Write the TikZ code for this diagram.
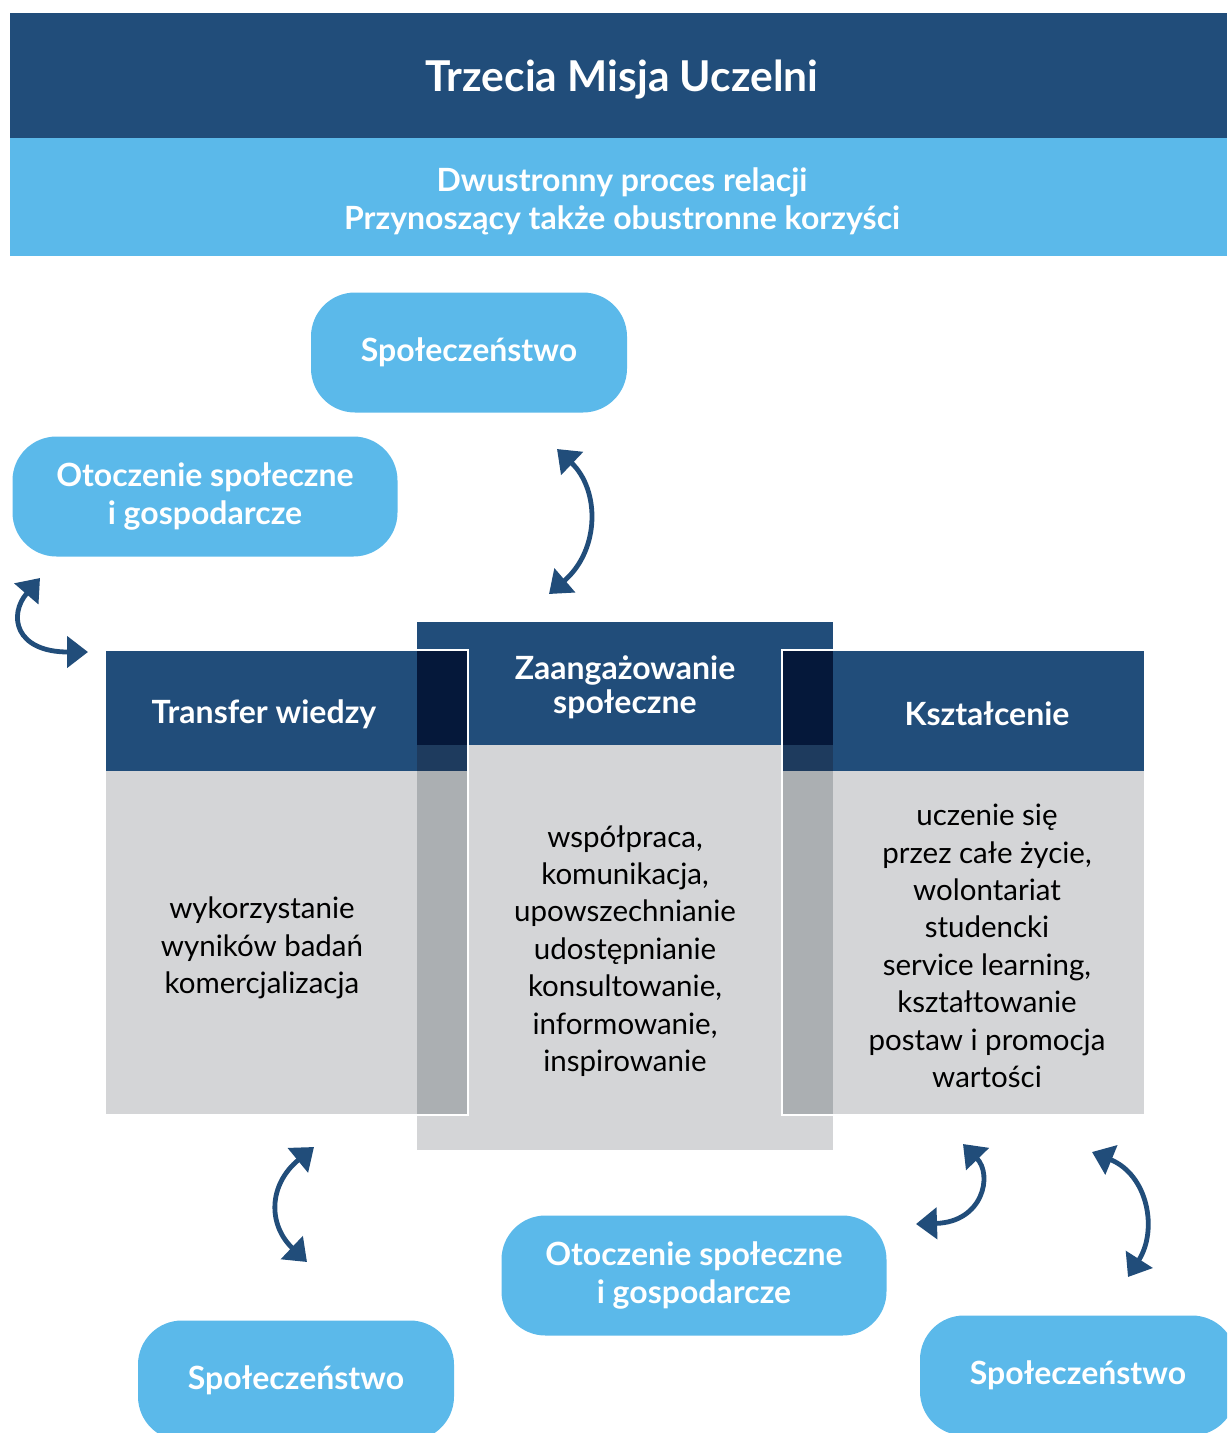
\documentclass[tikz,border=0pt]{standalone}
\usepackage{fontspec}
\setmainfont{Lato}
\usetikzlibrary{arrows.meta}
\definecolor{navy}{HTML}{214D7A}
\definecolor{sky}{HTML}{5BB9EA}
\definecolor{lgray}{HTML}{D4D5D7}
\definecolor{ovdd}{HTML}{05183A}
\definecolor{ovdg}{HTML}{1E3B5E}
\definecolor{ovgg}{HTML}{ABAFB2}
\begin{document}
\begin{tikzpicture}[x=1pt,y=-1pt,
  pill/.style={fill=sky, rounded corners=44pt, minimum width=316pt, minimum height=120pt,
    text=white, font=\bfseries\fontsize{32}{38}\selectfont, align=center, inner sep=0pt},
  hdtext/.style={text=white, font=\bfseries\fontsize{32}{34}\selectfont, align=center},
  bodytext/.style={text=black, font=\fontsize{29.5}{37.4}\selectfont, align=center},
  link/.style={draw=navy, line width=4.8pt, {Triangle[length=21pt,width=31pt]}-{Triangle[length=21pt,width=31pt]}}
]
\useasboundingbox (0,0) rectangle (1227,1433);
\begin{scope}
\clip (0,0) rectangle (1227,1433);
% header bands
\fill[navy] (10,13) rectangle (1227,138);
\fill[sky] (10,138) rectangle (1227,256);
\node[text=white, font=\bfseries\fontsize{42.5}{48}\selectfont] (title) at (622,80) {Trzecia Misja Uczelni};
\node[text=white, font=\bfseries\fontsize{32}{38}\selectfont, align=center] (sub) at (622,201)
  {Dwustronny proces relacji\\Przynoszący także obustronne korzyści};

% pills
\node[pill] (spTop) at (469,352.5) {Społeczeństwo};
\node[pill, minimum width=385pt] (otLeft) at (205,496.5) {Otoczenie społeczne\\i gospodarcze};
\node[pill, minimum width=385pt] (otBot) at (694,1275.5) {Otoczenie społeczne\\i gospodarcze};
\node[pill] (spBL) at (296,1380.5) {Społeczeństwo};
\node[pill] (spBR) at (1078,1375.5) {Społeczeństwo};

% middle column
\fill[navy] (417,622) rectangle (833,745);
\fill[lgray] (417,745) rectangle (833,1150);
% left column
\fill[navy] (105,650) rectangle (468,771);
\fill[lgray] (105,771) rectangle (468,1115);
% right column
\fill[navy] (782,650) rectangle (1145,771);
\fill[lgray] (782,771) rectangle (1145,1115);
% overlaps
\fill[ovdd] (417,650) rectangle (468,745);
\fill[ovdg] (417,745) rectangle (468,771);
\fill[ovgg] (417,771) rectangle (468,1115);
\fill[ovdd] (782,650) rectangle (833,745);
\fill[ovdg] (782,745) rectangle (833,771);
\fill[ovgg] (782,771) rectangle (833,1115);
% white outlines of side columns
\draw[white, line width=1.6pt] (105,650) rectangle (468,1115);
\draw[white, line width=1.6pt] (782,650) rectangle (1145,1115);

% column texts
\node[hdtext] (hL) at (264,714) {Transfer wiedzy};
\node[hdtext] (hM) at (625,687) {Zaangażowanie\\społeczne};
\node[hdtext] (hR) at (987,714) {Kształcenie};
\node[bodytext] (bL) at (262,948) {wykorzystanie\\wyników badań\\komercjalizacja};
\node[bodytext] (bM) at (625,951) {współpraca,\\komunikacja,\\upowszechnianie\\udostępnianie\\konsultowanie,\\informowanie,\\inspirowanie};
\node[bodytext] (bR) at (987,946) {uczenie się\\przez całe życie,\\wolontariat\\studencki\\service learning,\\kształtowanie\\postaw i promocja\\wartości};

% arrows
\coordinate (a1s) at (40,578); \coordinate (a1e) at (88,652);
\coordinate (a2s) at (557,449); \coordinate (a2e) at (549,594);
\coordinate (a3s) at (314,1147); \coordinate (a3e) at (307,1262);
\coordinate (a4s) at (963,1144); \coordinate (a4e) at (916,1224);
\coordinate (a5s) at (1092,1152); \coordinate (a5e) at (1128,1277);
\draw[link] (a1s) .. controls (8,615) and (15,652) .. (a1e);
\draw[link] (a2s) .. controls (600,490) and (600,550) .. (a2e);
\draw[link] (a3s) .. controls (268,1185) and (268,1225) .. (a3e);
\draw[link] (a4s) .. controls (993,1175) and (983,1222) .. (a4e);
\draw[link] (a5s) .. controls (1148,1175) and (1158,1230) .. (a5e);
\end{scope}
\end{tikzpicture}
\end{document}
